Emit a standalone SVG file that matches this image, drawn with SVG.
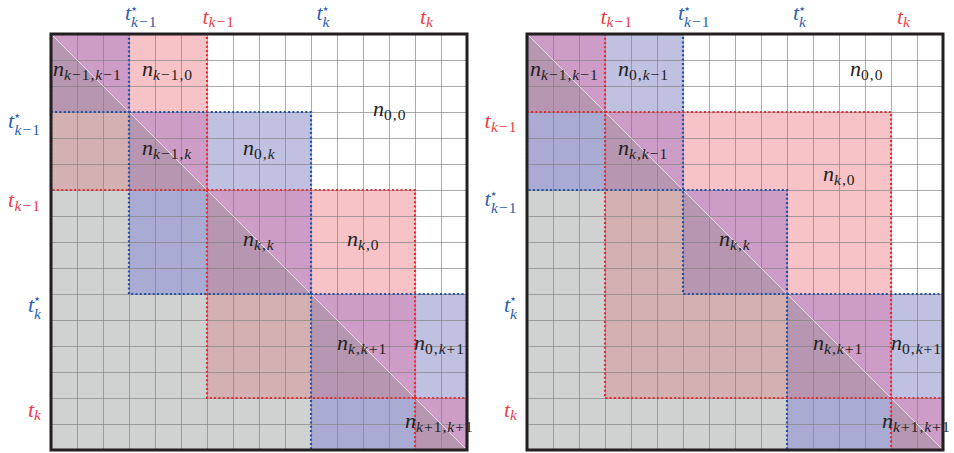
<svg xmlns="http://www.w3.org/2000/svg" width="954" height="453" viewBox="0 0 954 453">
<style>
.m{font-family:"Liberation Serif","DejaVu Serif",serif;font-size:22px;fill:#231f20}
.i{font-style:italic}
.s{font-size:15.5px;letter-spacing:1px}
.st{font-family:"DejaVu Sans",sans-serif;font-size:13px}
.r{fill:#ea3f4a}
.b{fill:#2c5fae}
.fr{fill:none;stroke:#231f20;stroke-width:3}
.dr{fill:none;stroke:#e52b36;stroke-width:2.2;stroke-dasharray:2 2.3}
.db{fill:none;stroke:#2450a6;stroke-width:2.2;stroke-dasharray:2 2.3}
.up{fill:#f7c3c7}.ub{fill:#c0c1e0}.uu{fill:#cd9cc7}
.lg{fill:#d0d2d2}.lp{fill:#d3b1b3}.lb{fill:#a9abd2}.lu{fill:#b696b1}
.dg{stroke:#fff;stroke-width:0.8;opacity:0.8}
</style>
<defs>
<clipPath id="cu"><polygon points="0,0 416,0 416,416"/></clipPath>
<clipPath id="cl"><polygon points="0,0 0,416 416,416"/></clipPath>
<pattern id="grid" width="26" height="26" patternUnits="userSpaceOnUse"><path d="M0 0.5H26M0.5 0V26" stroke="#7f7f7f" stroke-opacity="0.65" stroke-width="1" fill="none"/></pattern>
</defs>

<g id="left-matrix" transform="translate(51,34)">
 <g clip-path="url(#cu)">
  <rect width="416" height="416" fill="#fff"/>
  <rect class="up" x="0" y="0" width="156" height="156"/>
  <rect class="up" x="156" y="156" width="208" height="208"/>
  <rect class="up" x="364" y="364" width="52" height="52"/>
  <rect class="ub" x="0" y="0" width="78" height="78"/>
  <rect class="ub" x="78" y="78" width="182" height="182"/>
  <rect class="ub" x="260" y="260" width="156" height="156"/>
  <rect class="uu" x="0" y="0" width="78" height="78"/>
  <rect class="uu" x="78" y="78" width="78" height="78"/>
  <rect class="uu" x="156" y="156" width="104" height="104"/>
  <rect class="uu" x="260" y="260" width="104" height="104"/>
  <rect class="uu" x="364" y="364" width="52" height="52"/>
 </g>
 <g clip-path="url(#cl)">
  <rect class="lg" width="416" height="416"/>
  <rect class="lp" x="0" y="0" width="156" height="156"/>
  <rect class="lp" x="156" y="156" width="208" height="208"/>
  <rect class="lp" x="364" y="364" width="52" height="52"/>
  <rect class="lb" x="0" y="0" width="78" height="78"/>
  <rect class="lb" x="78" y="78" width="182" height="182"/>
  <rect class="lb" x="260" y="260" width="156" height="156"/>
  <rect class="lu" x="0" y="0" width="78" height="78"/>
  <rect class="lu" x="78" y="78" width="78" height="78"/>
  <rect class="lu" x="156" y="156" width="104" height="104"/>
  <rect class="lu" x="260" y="260" width="104" height="104"/>
  <rect class="lu" x="364" y="364" width="52" height="52"/>
 </g>
 <rect width="416" height="416" fill="url(#grid)"/>
 <line class="dg" x1="0" y1="0" x2="416" y2="416"/>
 <rect class="db" x="0" y="0" width="78" height="78"/>
 <rect class="db" x="78" y="78" width="182" height="182"/>
 <rect class="db" x="260" y="260" width="156" height="156"/>
 <rect class="dr" x="0" y="0" width="156" height="156"/>
 <rect class="dr" x="156" y="156" width="208" height="208"/>
 <rect class="dr" x="364" y="364" width="52" height="52"/>
 <rect class="fr" width="416" height="416"/>
</g>

<g id="right-matrix" transform="translate(527,34)">
 <g clip-path="url(#cu)">
  <rect width="416" height="416" fill="#fff"/>
  <rect class="up" x="0" y="0" width="78" height="78"/>
  <rect class="up" x="78" y="78" width="286" height="286"/>
  <rect class="up" x="364" y="364" width="52" height="52"/>
  <rect class="ub" x="0" y="0" width="156" height="156"/>
  <rect class="ub" x="156" y="156" width="104" height="104"/>
  <rect class="ub" x="260" y="260" width="156" height="156"/>
  <rect class="uu" x="0" y="0" width="78" height="78"/>
  <rect class="uu" x="78" y="78" width="78" height="78"/>
  <rect class="uu" x="156" y="156" width="104" height="104"/>
  <rect class="uu" x="260" y="260" width="104" height="104"/>
  <rect class="uu" x="364" y="364" width="52" height="52"/>
 </g>
 <g clip-path="url(#cl)">
  <rect class="lg" width="416" height="416"/>
  <rect class="lp" x="0" y="0" width="78" height="78"/>
  <rect class="lp" x="78" y="78" width="286" height="286"/>
  <rect class="lp" x="364" y="364" width="52" height="52"/>
  <rect class="lb" x="0" y="0" width="156" height="156"/>
  <rect class="lb" x="156" y="156" width="104" height="104"/>
  <rect class="lb" x="260" y="260" width="156" height="156"/>
  <rect class="lu" x="0" y="0" width="78" height="78"/>
  <rect class="lu" x="78" y="78" width="78" height="78"/>
  <rect class="lu" x="156" y="156" width="104" height="104"/>
  <rect class="lu" x="260" y="260" width="104" height="104"/>
  <rect class="lu" x="364" y="364" width="52" height="52"/>
 </g>
 <rect width="416" height="416" fill="url(#grid)"/>
 <line class="dg" x1="0" y1="0" x2="416" y2="416"/>
 <rect class="db" x="0" y="0" width="156" height="156"/>
 <rect class="db" x="156" y="156" width="104" height="104"/>
 <rect class="db" x="260" y="260" width="156" height="156"/>
 <rect class="dr" x="0" y="0" width="78" height="78"/>
 <rect class="dr" x="78" y="78" width="286" height="286"/>
 <rect class="dr" x="364" y="364" width="52" height="52"/>
 <rect class="fr" width="416" height="416"/>
</g>

<g id="left-node-labels" class="m">
 <text x="53" y="76"><tspan class="i">n</tspan><tspan class="s" dy="3.5"><tspan class="i">k</tspan>−1,<tspan class="i">k</tspan>−1</tspan></text>
 <text x="142" y="76"><tspan class="i">n</tspan><tspan class="s" dy="3.5"><tspan class="i">k</tspan>−1,0</tspan></text>
 <text x="373" y="116"><tspan class="i">n</tspan><tspan class="s" dy="3.5">0,0</tspan></text>
 <text x="142" y="155"><tspan class="i">n</tspan><tspan class="s" dy="3.5"><tspan class="i">k</tspan>−1,<tspan class="i">k</tspan></tspan></text>
 <text x="243" y="155"><tspan class="i">n</tspan><tspan class="s" dy="3.5">0,<tspan class="i">k</tspan></tspan></text>
 <text x="243" y="246"><tspan class="i">n</tspan><tspan class="s" dy="3.5"><tspan class="i">k</tspan>,<tspan class="i">k</tspan></tspan></text>
 <text x="347" y="246"><tspan class="i">n</tspan><tspan class="s" dy="3.5"><tspan class="i">k</tspan>,0</tspan></text>
 <text x="337" y="350"><tspan class="i">n</tspan><tspan class="s" dy="3.5"><tspan class="i">k</tspan>,<tspan class="i">k</tspan>+1</tspan></text>
 <text x="414" y="350"><tspan class="i">n</tspan><tspan class="s" dy="3.5">0,<tspan class="i">k</tspan>+1</tspan></text>
 <text x="405" y="428"><tspan class="i">n</tspan><tspan class="s" dy="3.5"><tspan class="i">k</tspan>+1,<tspan class="i">k</tspan>+1</tspan></text>
</g>

<g id="right-node-labels" class="m">
 <text x="530" y="76"><tspan class="i">n</tspan><tspan class="s" dy="3.5"><tspan class="i">k</tspan>−1,<tspan class="i">k</tspan>−1</tspan></text>
 <text x="618" y="76"><tspan class="i">n</tspan><tspan class="s" dy="3.5">0,<tspan class="i">k</tspan>−1</tspan></text>
 <text x="850" y="76"><tspan class="i">n</tspan><tspan class="s" dy="3.5">0,0</tspan></text>
 <text x="618" y="155"><tspan class="i">n</tspan><tspan class="s" dy="3.5"><tspan class="i">k</tspan>,<tspan class="i">k</tspan>−1</tspan></text>
 <text x="823" y="181"><tspan class="i">n</tspan><tspan class="s" dy="3.5"><tspan class="i">k</tspan>,0</tspan></text>
 <text x="719" y="246"><tspan class="i">n</tspan><tspan class="s" dy="3.5"><tspan class="i">k</tspan>,<tspan class="i">k</tspan></tspan></text>
 <text x="813" y="350"><tspan class="i">n</tspan><tspan class="s" dy="3.5"><tspan class="i">k</tspan>,<tspan class="i">k</tspan>+1</tspan></text>
 <text x="891" y="350"><tspan class="i">n</tspan><tspan class="s" dy="3.5">0,<tspan class="i">k</tspan>+1</tspan></text>
 <text x="882" y="428"><tspan class="i">n</tspan><tspan class="s" dy="3.5"><tspan class="i">k</tspan>+1,<tspan class="i">k</tspan>+1</tspan></text>
</g>

<g id="left-axis-labels" class="m">
 <text class="b"><tspan class="i" x="125" y="19.5">t</tspan><tspan class="st" x="130" y="13">⋆</tspan><tspan class="s" x="131" y="26.5"><tspan class="i">k</tspan>−1</tspan></text>
 <text class="r"><tspan class="i" x="202.5" y="23.5">t</tspan><tspan class="s" x="208.5" y="26.5"><tspan class="i">k</tspan>−1</tspan></text>
 <text class="b"><tspan class="i" x="316.5" y="19.5">t</tspan><tspan class="st" x="321.5" y="13">⋆</tspan><tspan class="s" x="322.5" y="27"><tspan class="i">k</tspan></tspan></text>
 <text class="r"><tspan class="i" x="420" y="23.5">t</tspan><tspan class="s" x="426" y="27"><tspan class="i">k</tspan></tspan></text>
 <text class="b"><tspan class="i" x="8" y="128">t</tspan><tspan class="st" x="13" y="119.5">⋆</tspan><tspan class="s" x="14.5" y="135"><tspan class="i">k</tspan>−1</tspan></text>
 <text class="r"><tspan class="i" x="8" y="207">t</tspan><tspan class="s" x="14.5" y="211"><tspan class="i">k</tspan>−1</tspan></text>
 <text class="b"><tspan class="i" x="28" y="312">t</tspan><tspan class="st" x="33" y="302.5">⋆</tspan><tspan class="s" x="34" y="318.5"><tspan class="i">k</tspan></tspan></text>
 <text class="r"><tspan class="i" x="28" y="416.5">t</tspan><tspan class="s" x="34" y="419.5"><tspan class="i">k</tspan></tspan></text>
</g>

<g id="right-axis-labels" class="m">
 <text class="r"><tspan class="i" x="600.5" y="23.5">t</tspan><tspan class="s" x="606.5" y="26.5"><tspan class="i">k</tspan>−1</tspan></text>
 <text class="b"><tspan class="i" x="678" y="19.5">t</tspan><tspan class="st" x="683" y="13">⋆</tspan><tspan class="s" x="684" y="26.5"><tspan class="i">k</tspan>−1</tspan></text>
 <text class="b"><tspan class="i" x="793" y="19.5">t</tspan><tspan class="st" x="798" y="13">⋆</tspan><tspan class="s" x="799" y="27"><tspan class="i">k</tspan></tspan></text>
 <text class="r"><tspan class="i" x="897" y="23.5">t</tspan><tspan class="s" x="903" y="27"><tspan class="i">k</tspan></tspan></text>
 <text class="r"><tspan class="i" x="484.5" y="128">t</tspan><tspan class="s" x="491" y="132"><tspan class="i">k</tspan>−1</tspan></text>
 <text class="b"><tspan class="i" x="484.5" y="206">t</tspan><tspan class="st" x="489.5" y="197.5">⋆</tspan><tspan class="s" x="491" y="213"><tspan class="i">k</tspan>−1</tspan></text>
 <text class="b"><tspan class="i" x="504" y="312">t</tspan><tspan class="st" x="509" y="302.5">⋆</tspan><tspan class="s" x="510" y="318.5"><tspan class="i">k</tspan></tspan></text>
 <text class="r"><tspan class="i" x="504" y="416.5">t</tspan><tspan class="s" x="510" y="419.5"><tspan class="i">k</tspan></tspan></text>
</g>
</svg>
